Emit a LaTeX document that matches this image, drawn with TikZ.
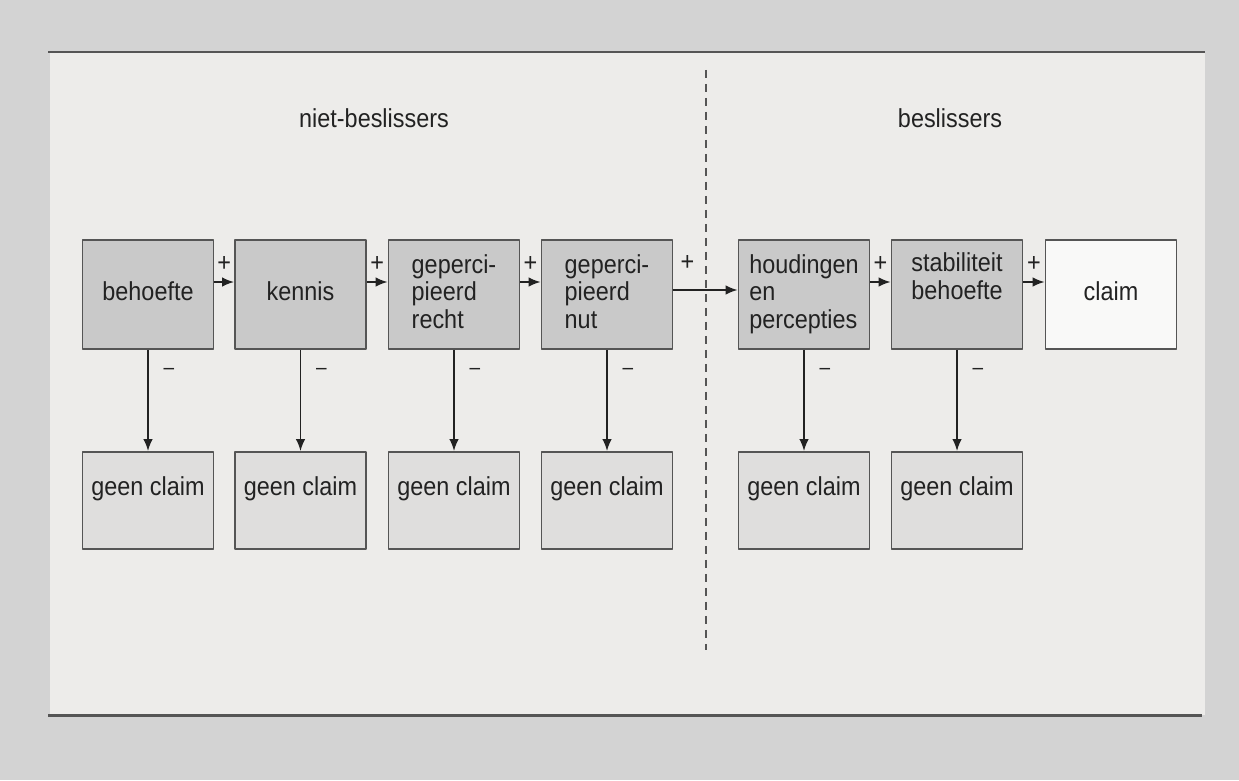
\documentclass[tikz,border=0pt]{standalone}
\usepackage{fontspec}
\setmainfont{Liberation Sans}[FakeStretch=0.9]
\usetikzlibrary{arrows.meta}
\definecolor{pagegray}{HTML}{D3D3D3}
\definecolor{panelgray}{HTML}{EDECEA}
\definecolor{framegray}{HTML}{555555}
\definecolor{boxgray}{HTML}{C9C9C9}
\definecolor{lightbox}{HTML}{DFDEDD}
\definecolor{claimwhite}{HTML}{F9F9F8}
\definecolor{inkgray}{HTML}{222222}
\begin{document}
\begin{tikzpicture}[>={Latex[length=0.24cm,width=0.19cm]},line join=round,x=0.02cm,y=-0.02cm,
	font=\fontsize{14.8}{15.6}\selectfont,text=inkgray,
	box/.style={draw=framegray,line width=1.1pt,fill=boxgray,minimum width=2.62cm,minimum height=2.18cm,inner sep=0pt,align=left,text depth=0.12cm},
	nobox/.style={box,fill=lightbox,minimum height=1.94cm,text height=0.38cm,text depth=0.59cm},
	plus/.style={yshift=0.36cm,inner sep=0pt},
	minus/.style={xshift=0.42cm,inner sep=0pt,font=\fontsize{12}{13}\selectfont},
	link/.style={->,inkgray,line width=0.9pt}
	]
	% achtergrond
	\fill[pagegray] (0,0) rectangle (1239,780);
	\fill[panelgray] (50,52) rectangle (1205,715);
	\draw[framegray,line width=1.7pt] (48,52)--(1205,52)
	(48,715)--(1202,715);
	\draw[framegray,line width=0.85pt,dash pattern=on 0.16cm off 0.12cm] (706,70)--(706,650);
	% koppen
	\node (niet) at (374,118) {niet-beslissers};
	\node (besl) at (950,118) {beslissers};
	% bovenste rij
	\node[box] (b1) at (148,294.5) {behoefte};
	\node[box] (b2) at (300.5,294.5) {kennis};
	\node[box] (b3) at (454,294.5) {geperci-\\pieerd\\recht};
	\node[box] (b4) at (607,294.5) {geperci-\\pieerd\\nut};
	\node[box] (b5) at (804,294.5) {houdingen\\en\\percepties};
	\node[box,align=center,text depth=0.74cm] (b6) at (957,294.5) {stabiliteit\\behoefte};
	\node[box,fill=claimwhite] (b7) at (1111,294.5) {claim};
	\draw[link] ([yshift=0.25cm]b1.east)--node[plus]{+}([yshift=0.25cm]b2.west);
	\draw[link] ([yshift=0.25cm]b2.east)--node[plus]{+}([yshift=0.25cm]b3.west);
	\draw[link] ([yshift=0.25cm]b3.east)--node[plus]{+}([yshift=0.25cm]b4.west);
	\draw[link] ([yshift=0.09cm]b4.east)--node[plus,pos=0.22,yshift=0.18cm]{+}([yshift=0.09cm]b5.west);
	\draw[link] ([yshift=0.25cm]b5.east)--node[plus]{+}([yshift=0.25cm]b6.west);
	\draw[link] ([yshift=0.25cm]b6.east)--node[plus]{+}([yshift=0.25cm]b7.west);
	% onderste rij
	\foreach \i/\x in {1/148,2/300.5,3/454,4/607,5/804,6/957}{
		\node[nobox] (n\i) at (\x,500.5) {geen claim};
		\draw[link] (b\i.south)--node[minus,pos=0.21]{--}(n\i.north);
	}
\end{tikzpicture}
\end{document}
